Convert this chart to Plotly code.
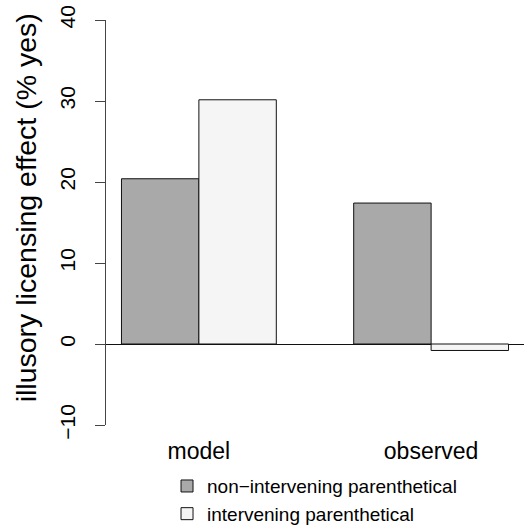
import plotly.graph_objects as go

categories = ["model", "observed"]
series_names = ["non\u2212intervening parenthetical", "intervening parenthetical"]
non_intervening = [20.4, 17.4]
intervening = [30.15, -0.8]
series_colors = ["#A9A9A9", "#F5F5F5"]
y_tick_vals = [-10, 0, 10, 20, 30, 40]
y_tick_text = ["\u221210", "0", "10", "20", "30", "40"]

FONT = "Liberation Sans, Arial, Helvetica, sans-serif"

fig = go.Figure()
for name, vals, col in zip(series_names, [non_intervening, intervening], series_colors):
    fig.add_trace(go.Bar(
        x=categories, y=vals, name=name,
        marker=dict(color=col, line=dict(color="#111111", width=1)),
    ))

fig.update_layout(
    width=524, height=525,
    margin=dict(l=106, r=0, t=20, b=100, autoexpand=False),
    paper_bgcolor="white", plot_bgcolor="white",
    barmode="group", bargap=1/3, bargroupgap=0,
    font=dict(family=FONT, color="black"),
    showlegend=True,
    legend=dict(
        x=0.146, xanchor="left", y=-0.104, yanchor="top",
        font=dict(size=19, family=FONT),
        bgcolor="rgba(0,0,0,0)", borderwidth=0,
        tracegroupgap=0,
    ),
    xaxis=dict(
        type="category", range=[-0.4, 1.4], automargin=False,
        showline=False, showgrid=False, zeroline=False,
        ticks="", tickfont=dict(size=23, family=FONT),
        ticklabelstandoff=10, ticklabeloverflow="allow",
    ),
    yaxis=dict(
        range=[-10, 40], automargin=False,
        tickvals=y_tick_vals, ticktext=y_tick_text,
        showline=True, linecolor="#444444", linewidth=1,
        showgrid=False,
        zeroline=True, zerolinecolor="#111111", zerolinewidth=1,
        ticks="outside", ticklen=10, tickcolor="#444444", tickwidth=1,
        tickangle=-90, tickfont=dict(size=21, family=FONT),
        ticklabelstandoff=12, ticklabeloverflow="allow",
    ),
    annotations=[dict(
        text="illusory licensing effect (% yes)",
        xref="paper", yref="paper", x=0, y=0.535,
        xshift=-80, xanchor="center", yanchor="middle",
        textangle=-90, showarrow=False,
        font=dict(size=28.5, family=FONT, color="black"),
    )],
)

fig.write_html(
    "out.html",
    config={"displayModeBar": False},
    post_script="document.body.style.margin='0';document.body.style.overflow='hidden';",
)
